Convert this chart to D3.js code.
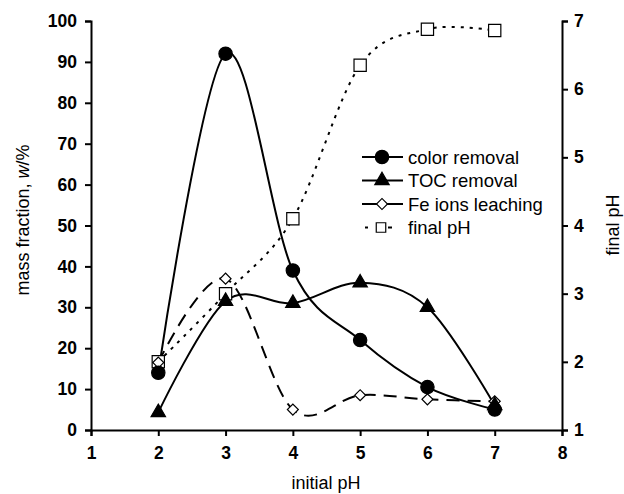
<!DOCTYPE html>
<html><head><meta charset="utf-8">
<script src="https://cdn.jsdelivr.net/npm/d3@7"></script>
<style>body{margin:0;background:#fff}svg{display:block}text{font-family:"Liberation Sans",Arial,sans-serif}</style>
</head><body><svg id="c" width="624" height="494"></svg>
<script>
const initialPH = [2, 3, 4, 5, 6, 7];
const colorRemoval = [14, 92, 39, 22, 10.5, 5];
const tocRemoval = [4.3, 31.5, 31, 36, 30, 6];
const feLeaching = [16.5, 37, 5, 8.5, 7.5, 7];
const finalPH = [2.0, 3.0, 4.1, 6.35, 6.88, 6.86];
const xTicks = [1, 2, 3, 4, 5, 6, 7, 8];
const yLeftTicks = [0, 10, 20, 30, 40, 50, 60, 70, 80, 90, 100];
const yRightTicks = [1, 2, 3, 4, 5, 6, 7];
const seriesNames = ["color removal", "TOC removal", "Fe ions leaching", "final pH"];

const svg = d3.select("#c");
const x = d3.scaleLinear().domain([1, 8]).range([91, 562]);
const yL = d3.scaleLinear().domain([0, 100]).range([430, 21]);
const yR = d3.scaleLinear().domain([1, 7]).range([430, 21]);

function styleAxis(g){
  g.selectAll("path.domain").attr("stroke","#000").attr("stroke-width",2);
  g.selectAll(".tick line").attr("stroke","#000").attr("stroke-width",2);
  g.selectAll(".tick text").attr("font-size",17.5).attr("font-weight","bold").attr("fill","#000")
   .attr("font-family",'"Liberation Sans",Arial,sans-serif');
}
svg.append("g").attr("transform","translate(0,430)")
  .call(d3.axisBottom(x).tickValues(xTicks).tickFormat(d3.format("d")).tickSizeOuter(0).tickSize(6).tickPadding(11))
  .call(styleAxis);
svg.append("g").attr("transform","translate(91,0)")
  .call(d3.axisLeft(yL).tickValues(yLeftTicks).tickFormat(d3.format("d")).tickSizeOuter(0).tickSize(6).tickPadding(8))
  .call(styleAxis);
svg.append("g").attr("transform","translate(562,0)")
  .call(d3.axisRight(yR).tickValues(yRightTicks).tickFormat(d3.format("d")).tickSizeOuter(0).tickSize(6).tickPadding(6))
  .call(styleAxis);

// titles
svg.append("text").attr("x",326).attr("y",489).attr("text-anchor","middle").attr("font-size",18).text("initial pH");
const lt = svg.append("text").attr("transform","translate(29,220) rotate(-90)").attr("text-anchor","middle").attr("font-size",18);
lt.append("tspan").text("mass fraction, ");
lt.append("tspan").attr("font-style","italic").text("w");
lt.append("tspan").text("/%");
svg.append("text").attr("transform","translate(619,225) rotate(-90)").attr("text-anchor","middle").attr("font-size",18).text("final pH");

const curve = d3.curveCardinal.tension(0);
function line(vals, ys){
  return d3.line().x((d,i)=>x(initialPH[i])).y(d=>ys(d)).curve(curve)(vals);
}
const g = svg.append("g");
g.append("path").attr("d",line(finalPH,yR)).attr("fill","none").attr("stroke","#000").attr("stroke-width",2).attr("stroke-dasharray","3,6");
g.append("path").attr("d",line(feLeaching,yL)).attr("fill","none").attr("stroke","#000").attr("stroke-width",2).attr("stroke-dasharray","13,8");
g.append("path").attr("d",line(tocRemoval,yL)).attr("fill","none").attr("stroke","#000").attr("stroke-width",2);
g.append("path").attr("d",line(colorRemoval,yL)).attr("fill","none").attr("stroke","#000").attr("stroke-width",2);

const sym = {
  circle: d3.symbol().type(d3.symbolCircle).size(140),
  tri: d3.symbol().type(d3.symbolTriangle).size(90),
  diamond: d3.symbol().type(d3.symbolSquare).size(60),
  square: d3.symbol().type(d3.symbolSquare).size(150)
};
function markers(vals, ys, s, fill, rot){
  g.append("g").selectAll("path").data(vals).join("path")
   .attr("transform",(d,i)=>`translate(${x(initialPH[i])},${ys(d)}) rotate(${rot||0})`)
   .attr("d",s).attr("fill",fill).attr("stroke","#000").attr("stroke-width",1.2);
}
markers(finalPH, yR, sym.square, "#fff");
markers(feLeaching, yL, sym.diamond, "#fff", 45);
markers(tocRemoval, yL, sym.tri, "#000");
markers(colorRemoval, yL, sym.circle, "#000");

// legend
const legend = svg.append("g");
const lsyms = [[sym.circle,"#000",0],[sym.tri,"#000",0],[sym.diamond,"#fff",45],[d3.symbol().type(d3.symbolSquare).size(90),"#fff",0]];
seriesNames.forEach((n,i)=>{
  const yy = 157 + i*23.5;
  const row = legend.append("g");
  if(i<3){
    row.append("line").attr("x1",362).attr("x2",403).attr("y1",yy).attr("y2",yy).attr("stroke","#000").attr("stroke-width",2);
  } else {
    row.append("line").attr("x1",365).attr("x2",368).attr("y1",yy).attr("y2",yy).attr("stroke","#000").attr("stroke-width",2);
    row.append("line").attr("x1",388).attr("x2",392).attr("y1",yy).attr("y2",yy).attr("stroke","#000").attr("stroke-width",2);
  }
  row.append("path").attr("transform",`translate(${i===3?381:382},${yy}) rotate(${lsyms[i][2]})`).attr("d",lsyms[i][0]())
    .attr("fill",lsyms[i][1]).attr("stroke","#000").attr("stroke-width",1.2);
  row.append("text").attr("x",408).attr("y",yy+6.5).attr("font-size",18.5).text(n);
});
</script></body></html>
